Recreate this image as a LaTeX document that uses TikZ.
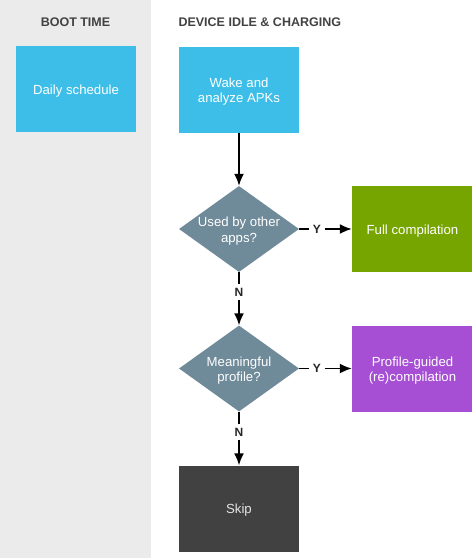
\documentclass[tikz,border=0pt]{standalone}
\usepackage{fontspec}
\setmainfont{Liberation Sans}
\usetikzlibrary{shapes.geometric,arrows.meta}
\definecolor{bandgray}{HTML}{EBEBEB}
\definecolor{headgray}{HTML}{424242}
\definecolor{skyblue}{HTML}{3CBEE8}
\definecolor{slate}{HTML}{6F8A99}
\definecolor{leafgreen}{HTML}{77A500}
\definecolor{violet}{HTML}{A64ED4}
\definecolor{darkbox}{HTML}{414141}
\newcommand{\dropline}[1]{\raisebox{-2pt}[\height][\depth]{#1}}
\tikzset{
  box/.style={rectangle, inner sep=0pt, minimum width=120pt, minimum height=86pt,
    text=white, align=center, font=\fontsize{13.2}{15.5}\selectfont},
  choice/.style={diamond, fill=slate, inner sep=0pt, minimum width=120pt, minimum height=86pt},
  choicetext/.style={text=white, align=center, yshift=-2pt, font=\fontsize{13.2}{15.5}\selectfont},
  head/.style={text=headgray, font=\fontsize{12.5}{14}\selectfont\bfseries},
  tag/.style={text=black!85, inner sep=3.5pt, font=\fontsize{12}{14}\selectfont\bfseries},
  flow/.style={line width=1.8pt, draw=black},
  tip/.style={flow, -{Latex[length=12pt,width=10pt]}}
}
\begin{document}
\begin{tikzpicture}[x=1pt,y=-1pt]
\useasboundingbox (0,0) rectangle (472,558);
% Boot time band
\fill[bandgray] (0,0) rectangle (151,558);
\node[head] (boothead) at (75.5,22) {BOOT TIME};
\node[head, anchor=west] (idlehead) at (175,22) {DEVICE IDLE \& CHARGING};
% Boxes
\node[box, fill=skyblue] (daily) at (76,89) {\dropline{Daily schedule}};
\node[box, fill=skyblue] (wake) at (239,89.5) {\dropline{Wake and}\\\dropline{analyze APKs}};
\node[choice, label={[choicetext]center:Used by other\\apps?}] (used) at (239,229) {};
\node[box, fill=leafgreen, minimum width=121pt] (full) at (412.5,229) {\dropline{Full compilation}};
\node[choice, label={[choicetext]center:Meaningful\\profile?}] (meaning) at (239,368.5) {};
\node[box, fill=violet, minimum width=121pt] (guided) at (412.5,368.5) {\dropline{Profile-guided}\\\dropline{(re)compilation}};
\node[box, fill=darkbox, text=white!90!black] (skip) at (239,508.5) {\dropline{Skip}};
% Labels on connectors
\node[tag] (yfull) at (317,229) {Y};
\node[tag] (yguided) at (317,368.5) {Y};
\node[tag] (nused) at (239,292) {N};
\node[tag] (nmeaning) at (239,432) {N};
% Connectors
\draw[tip] (wake.south) -- (used.north);
\draw[flow] (used.east) -- (yfull.west);
\draw[tip] (yfull.east) -- (full.west);
\draw[flow] (used.south) -- (nused.north);
\draw[tip] (nused.south) -- (meaning.north);
\draw[flow] (meaning.east) -- (yguided.west);
\draw[tip] (yguided.east) -- (guided.west);
\draw[flow] (meaning.south) -- (nmeaning.north);
\draw[tip] (nmeaning.south) -- (skip.north);
\end{tikzpicture}
\end{document}
